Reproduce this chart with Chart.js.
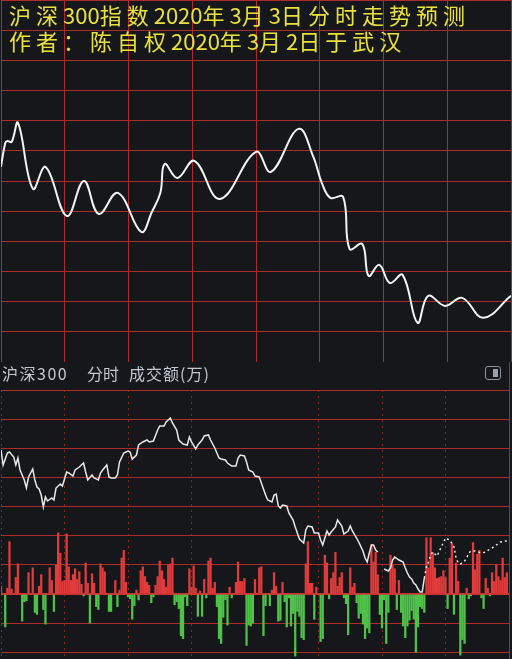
<!DOCTYPE html>
<html>
<head>
<meta charset="utf-8">
<script src="https://cdn.jsdelivr.net/npm/chart.js@4.4.1/dist/chart.umd.min.js"></script>
<style>
body { margin: 0; background: #16171a; width: 512px; height: 659px; overflow: hidden; position: relative; font-family: "Noto Sans CJK SC", sans-serif; }
#trendBox { position: absolute; left: 0; top: 0; width: 512px; height: 362px; }
#minuteBox { position: absolute; left: 0; top: 390px; width: 512px; height: 269px; }
.title { position: absolute; left: 9px; color: #e9e13d; font-size: 22px; line-height: 22px; white-space: nowrap; }
.title .w { letter-spacing: 5px; }
#head { position: absolute; left: 0; top: 362px; width: 512px; height: 28px; }
#head span { position: absolute; top: 1px; font-size: 16px; line-height: 20px; color: #c2c8d0; white-space: nowrap; }
#toggle { position: absolute; left: 485px; top: 4px; width: 14px; height: 12px; border: 1.5px solid #8c939b; border-radius: 3px; }
#toggle div { position: absolute; right: 2px; top: 2px; width: 5px; height: 8px; background: #9aa0a8; }
#headEdge { position: absolute; left: 509px; top: 0; width: 1px; height: 28px; background: #a82a2a; }
</style>
</head>
<body>
<div id="trendBox"><canvas id="trendChart" width="512" height="362"></canvas></div>
<div class="title" style="top:3px"><span class="w">沪深</span>300<span class="w">指数</span>2020<span class="w">年</span>3<span class="w">月</span>3<span class="w">日分时走势预测</span></div>
<div class="title" style="top:29px"><span class="w">作者：陈自权</span>2020<span class="w">年</span>3<span class="w">月</span>2<span class="w">日于武汉</span></div>
<div id="head">
  <span style="left:2px; letter-spacing:1.5px">沪深300</span>
  <span style="left:87px">分时</span>
  <span style="left:129px; letter-spacing:1px">成交额(万)</span>
  <div id="toggle"><div></div></div>
  <div id="headEdge"></div>
</div>
<div id="minuteBox"><canvas id="minuteChart" width="512" height="269"></canvas></div>
<script>
// forecast curve (top panel), minutes after the open
const trendMinutes = [0, 2, 3, 5, 8, 15, 21, 31, 39, 46, 55, 66, 71, 75, 77, 83, 91, 103, 120, 127,
    140, 147, 151, 155, 161, 164, 170, 173, 178, 183, 189, 196, 201, 209, 217, 227, 240];
const trendValues = [4102.1, 4113.9, 4114.9, 4114.4, 4123.9, 4091.1, 4102.0, 4077.6, 4095.0, 4078.6,
    4089.1, 4069.7, 4079.6, 4089.1, 4103.5, 4096.5, 4105.0, 4086.1, 4109.5, 4099.5,
    4120.9, 4107.0, 4094.0, 4086.6, 4087.1, 4061.2, 4063.7, 4047.8, 4053.3, 4044.3,
    4048.3, 4024.5, 4037.9, 4032.9, 4036.9, 4027.0, 4037.9];

// actual minute line (bottom panel)
const priceMinutes = [0, 1, 3, 4, 6, 7, 8, 9, 11, 12, 13, 15, 16, 17, 18, 19, 20, 21, 22, 24,
    25, 26, 28, 29, 31, 32, 34, 35, 37, 39, 40, 41, 43, 44, 46, 47, 48, 50, 51, 52,
    54, 55, 56, 58, 60, 61, 62, 64, 65, 67, 69, 70, 72, 74, 75, 77, 78, 80, 81, 83,
    84, 86, 88, 89, 90, 92, 93, 95, 96, 98, 99, 101, 103, 104, 106, 107, 109, 111, 112, 113,
    115, 116, 117, 119, 120, 122, 123, 125, 126, 128, 129, 130, 131, 132, 133, 135, 136, 138, 139, 140,
    141, 143, 144, 145, 147, 148, 150, 151, 152, 153, 154, 155, 156, 158, 159, 161, 162, 164, 165, 166,
    168, 169, 171, 172, 173, 174, 175, 176, 177, 178, 180, 181, 183, 184, 185, 186, 188, 189, 190, 191,
    192, 193, 194, 195, 196, 197, 198, 199, 200, 201, 202, 203, 204, 205, 206, 210, 212, 214, 215, 216,
    217, 218, 219, 220, 221, 222, 224, 227, 229, 231, 232, 234, 236, 238, 239];
const priceValues = [4075, 4067.5, 4073.5, 4074, 4071.5, 4067.5, 4071, 4065, 4060, 4056, 4061.5, 4065.5, 4060, 4056.5, 4055.5, 4052.5, 4046.5, 4051.5, 4049.5, 4051,
    4050, 4056, 4058, 4057, 4064, 4063.5, 4062, 4065, 4066.5, 4068.5, 4064, 4060, 4062.5, 4061, 4060, 4063.5, 4065, 4067.5, 4061.5, 4061,
    4061, 4062.5, 4069, 4073.5, 4074.5, 4074, 4070.5, 4072.5, 4077.5, 4079, 4080, 4079, 4079.5, 4085, 4087, 4087, 4089, 4091, 4088.5, 4085,
    4080, 4078, 4077.5, 4081.5, 4079, 4075.5, 4077.5, 4080, 4082, 4082.5, 4080, 4076, 4071, 4070.5, 4070, 4068.5, 4067, 4067, 4071, 4072.5,
    4072, 4069, 4065, 4064, 4062, 4061.5, 4058.5, 4052.5, 4050, 4049, 4052.5, 4053, 4047, 4046, 4047.5, 4047, 4043.5, 4040, 4036.5, 4033.5,
    4030.5, 4028.5, 4035, 4037, 4036.5, 4033.5, 4033.5, 4030, 4027.5, 4031, 4034.5, 4032.5, 4034, 4036.5, 4040, 4037, 4033, 4034.5, 4037, 4034.5,
    4031, 4029, 4024.5, 4021, 4019, 4023.5, 4027.5, 4027.5, 4025, 4024, null, 4015.5, 4014.5, 4016, 4020, 4021.5, 4020, 4019.5, 4019, 4016,
    4013.5, 4011.5, 4010.5, 4008.5, 4007.5, 4005.5, 4004, 4004, 4011, 4016.5, 4019, 4022.5, 4024, 4023, 4022, 4031, 4030, 4026.5, 4021, 4018.5,
    4018, 4018.5, 4019.5, 4021, 4023.5, 4024.5, 4024.5, 4023.5, 4024, 4025.5, 4026, 4027.5, 4029, 4029.5, 4029.5];

// turnover per minute, positive = up minute (red), negative = down minute (green)
const volume = [
    8, 0, -34, 6, 54, 5, 0, 17, 31, 0, -28, -8, -7, 22, 0, 27, -19, -21, 8, 20,
    -16, -31, 0, 27, 14, -18, 30, 63, 42, 13, 14, 62, 28, 14, 20, 26, 15, 23, 10, -2,
    32, 11, -30, 21, 11, -13, -16, 31, 27, 23, 0, -18, -18, 0, 14, -13, 4, 37, 45, 12,
    -3, -5, -26, -12, 4, -6, 24, 28, 18, 12, 9, -9, -3, 9, 18, 34, 24, 15, 7, 30,
    31, 37, -11, -8, -15, -43, -46, -3, -12, 26, 7, 29, 6, -23, 3, -23, 15, -4, 34, 37,
    6, 12, -13, -46, -51, -24, -6, -32, 7, -4, 0, 12, 33, 13, 13, 16, -53, -32, -33, -30,
    15, 0, 27, 28, -43, -12, 0, -12, 4, 22, 8, -28, -27, 12, -8, -34, -4, -33, -20, -64,
    -18, -23, -45, -47, 31, 54, 11, 11, -26, 7, 0, -49, -46, 40, 32, -5, 16, 22, 43, 8,
    17, 22, -4, -10, -42, 27, 7, 11, -9, -25, -20, -31, -46, -35, -40, 51, 33, 43, 20, -21,
    -35, -6, -51, -19, 40, 30, 26, -16, 14, -19, -33, -45, -33, -27, -17, -26, -60, -34, -13, -15,
    -19, 58, 27, 58, 43, 27, 16, 17, 18, 24, 17, -15, 37, 52, -21, 32, 13, -63, -47, -51,
    6, -5, -2, 53, 25, 41, 45, -4, -15, 16, 6, -2, 22, 13, 30, 18, 14, 37, 17, 22
];
const volumeTicks = [-60, -30, 0, 30, 60, 90, 120, 150, 180, 210];

const GRID_RED = '#ad2b2b';

function drawTrendChart() {
    const ctx = document.getElementById('trendChart').getContext('2d');
    return new Chart(ctx, {
        type: 'line',
        data: {
            datasets: [{
                data: trendMinutes.map((t, i) => ({ x: t, y: trendValues[i] })),
                borderColor: '#f4f4f4',
                borderWidth: 2,
                pointRadius: 0,
                tension: 0.4
            }]
        },
        options: {
            responsive: false,
            animation: false,
            layout: { padding: { left: 1, right: 1, top: 0, bottom: 0 } },
            plugins: { legend: { display: false }, tooltip: { enabled: false } },
            scales: {
                x: {
                    type: 'linear', min: 0, max: 240,
                    ticks: { stepSize: 30, display: false },
                    grid: { color: GRID_RED, drawTicks: false },
                    border: { display: false }
                },
                y: {
                    min: 4005, max: 4185,
                    ticks: { stepSize: 15, display: false },
                    grid: { color: GRID_RED, drawTicks: false },
                    border: { display: false }
                }
            }
        }
    });
}

function drawMinuteChart() {
    const ctx = document.getElementById('minuteChart').getContext('2d');
    return new Chart(ctx, {
        type: 'bar',
        data: {
            datasets: [{
                type: 'line',
                data: priceMinutes.map((t, i) => ({ x: t, y: priceValues[i] })),
                yAxisID: 'yPrice',
                borderColor: '#e8e8e8',
                borderWidth: 1.5,
                pointRadius: 0,
                tension: 0,
                spanGaps: false,
                segment: {
                    borderDash: c => c.p0.parsed.x >= 200 ? [2, 3] : undefined
                }
            }, {
                data: volume.map((v, i) => ({ x: i, y: v })),
                yAxisID: 'yVol',
                barThickness: 1.6,
                backgroundColor: c => (c.raw && c.raw.y < 0) ? '#4fc24a' : '#e23b3b'
            }]
        },
        options: {
            responsive: false,
            animation: false,
            layout: { padding: { left: 1, right: 3, top: 0, bottom: 0 } },
            plugins: { legend: { display: false }, tooltip: { enabled: false } },
            scales: {
                x: {
                    type: 'linear', min: 0, max: 240, offset: false,
                    ticks: { stepSize: 30, display: false },
                    grid: {
                        offset: false, drawTicks: false,
                        color: c => (c.tick.value === 120 || c.tick.value === 240) ? 'rgba(0,0,0,0)' : '#8a2626'
                    },
                    border: { display: false, dash: [2, 4] }
                },
                yVol: {
                    position: 'right', min: -67, max: 210.3,
                    afterBuildTicks: axis => { axis.ticks = volumeTicks.map(v => ({ value: v })); },
                    ticks: { display: false },
                    grid: {
                        drawTicks: false,
                        color: c => c.tick.value === 0 ? '#c83232' : GRID_RED,
                        lineWidth: c => c.tick.value === 0 ? 2 : 1
                    },
                    border: { display: true, color: GRID_RED }
                },
                yPrice: { display: false, min: 3970.5, max: 4105 }
            }
        }
    });
}

drawTrendChart();
drawMinuteChart();
</script>
</body>
</html>
